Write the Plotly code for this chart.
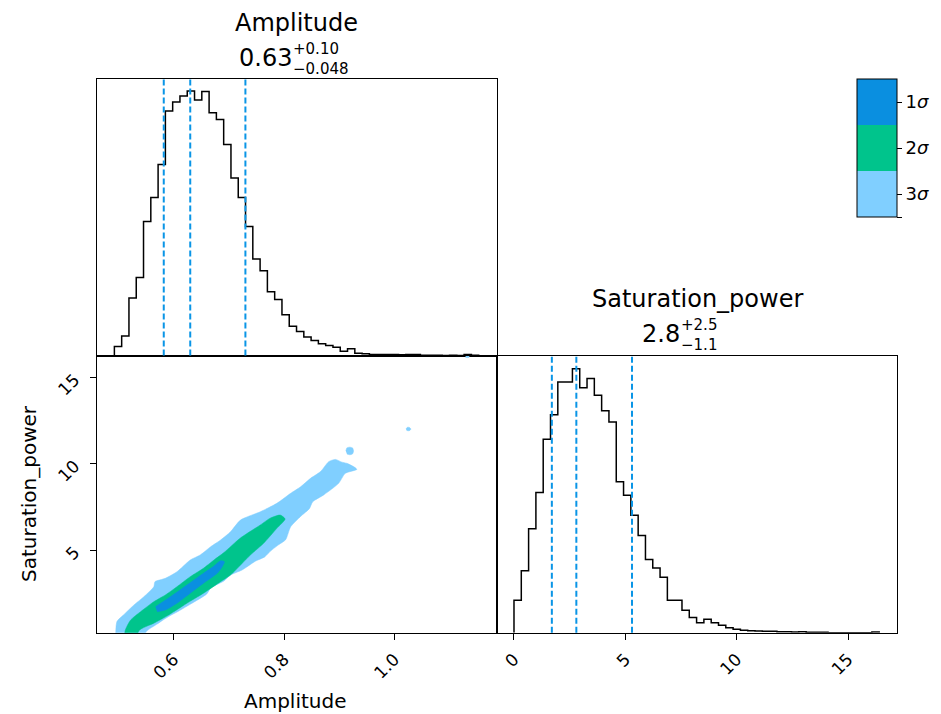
import numpy as np
import plotly.graph_objects as go

# ---------------- data ----------------
amp_counts = [27, 58, 172, 233, 400, 472, 570, 730, 757, 775, 790, 763, 788, 725, 705,
              630, 530, 472, 385, 288, 253, 190, 167, 122, 87, 72, 55, 45, 35, 30,
              25, 13, 20, 7, 5, 3, 3, 3, 3, 2, 3, 3, 1, 1, 1, 0, 1, 0, 3, 1]
amp_lo, amp_hi = 0.4925, 1.1528

sat_counts = [97, 185, 310, 418, 577, 650, 747, 747, 787, 730, 758, 708, 662, 628, 450,
              410, 350, 290, 218, 193, 165, 97, 97, 67, 45, 30, 40, 30, 22, 15,
              10, 7, 6, 5, 4, 4, 3, 3, 2, 3, 1, 1, 1, 0, 0, 0, 0, 0, 0, 2]
sat_lo, sat_hi = 0.0, 16.4

amp_quantiles = [0.582, 0.630, 0.730]
sat_quantiles = [1.7, 2.8, 5.3]

# credible-region outlines (Amplitude, Saturation_power)
sig3_amp = [0.495, 0.497, 0.509, 0.528, 0.546, 0.564, 0.566, 0.585, 0.606, 0.630, 0.648, 0.667,
            0.685, 0.703, 0.721, 0.757, 0.787, 0.812, 0.830, 0.848, 0.866, 0.881, 0.893, 0.905,
            0.914, 0.926, 0.932, 0.911, 0.899, 0.872, 0.852, 0.846, 0.830, 0.812, 0.803, 0.790,
            0.776, 0.765, 0.748, 0.724, 0.703, 0.691, 0.667, 0.660, 0.630, 0.606, 0.594, 0.579,
            0.570, 0.550, 0.540]
sig3_sat = [-1.0, 0.84, 1.23, 1.81, 2.29, 2.87, 3.16, 3.36, 3.74, 4.42, 4.71, 5.19,
            5.58, 6.06, 6.74, 7.22, 7.71, 8.29, 8.67, 9.16, 9.55, 10.13, 10.26, 10.10,
            10.03, 9.84, 9.68, 9.45, 8.87, 8.20, 7.80, 7.40, 6.95, 6.35, 5.60, 5.30,
            4.95, 4.60, 4.35, 3.84, 3.55, 3.20, 2.80, 2.45, 1.85, 1.40, 1.20, 0.90,
            0.70, 0.25, -1.0]

island1_amp = [0.912, 0.914, 0.919, 0.924, 0.926, 0.924, 0.919, 0.914]
island1_sat = [10.75, 10.93, 10.97, 10.93, 10.75, 10.57, 10.53, 10.57]
island2_amp = [1.021, 1.023, 1.025, 1.028, 1.030, 1.028, 1.025, 1.022]
island2_sat = [12.02, 12.11, 12.13, 12.10, 12.02, 11.94, 11.92, 11.95]
island3_amp = [1.129, 1.135, 1.135, 1.129]
island3_sat = [16.18, 16.18, 16.6, 16.6]

sig2_amp = [0.510, 0.512, 0.522, 0.540, 0.564, 0.585, 0.606, 0.630, 0.654, 0.673, 0.691,
            0.721, 0.757, 0.775, 0.793, 0.802, 0.787, 0.763, 0.739, 0.703, 0.685, 0.654,
            0.624, 0.591, 0.564, 0.537, 0.530]
sig2_sat = [-1.0, 0.32, 0.94, 1.42, 2.00, 2.39, 2.87, 3.45, 3.94, 4.42, 4.85,
            5.70, 6.45, 6.85, 7.03, 6.80, 6.26, 5.39, 4.71, 3.55, 3.16, 2.49,
            1.91, 1.23, 0.75, 0.32, -1.0]

sig1_amp = [0.567, 0.594, 0.624, 0.654, 0.673, 0.685, 0.692, 0.688, 0.679, 0.654, 0.630,
            0.606, 0.585, 0.570]
sig1_sat = [1.71, 2.29, 2.97, 3.65, 4.07, 4.38, 4.32, 4.03, 3.65, 3.07, 2.49,
            1.91, 1.52, 1.42]

sigma_labels = ["1<i>σ</i>", "2<i>σ</i>", "3<i>σ</i>", ""]

# ---------------- styling ----------------
C1 = "#0a8fe0"
C2 = "#00c48c"
C3 = "#80cfff"
CQ = "#0a95e6"
FONT = "DejaVu Sans"
W, H = 941, 714


def px_x(p):
    return p / W


def px_y(p):
    return 1 - p / H


def step_xy(counts, lo, hi):
    edges = np.linspace(lo, hi, len(counts) + 1)
    xs = [edges[0]] + list(edges[:-1]) + [edges[-1], edges[-1]]
    ys = [0] + list(counts) + [counts[-1], 0]
    return xs, ys


fig = go.Figure()

# top-left histogram
ax, ay = step_xy(amp_counts, amp_lo, amp_hi)
fig.add_trace(go.Scatter(x=ax, y=ay, mode="lines", line=dict(color="black", width=1.5, shape="hv"),
                         xaxis="x", yaxis="y", showlegend=False, hoverinfo="skip"))

# bottom-right histogram
sx, sy = step_xy(sat_counts, sat_lo, sat_hi)
fig.add_trace(go.Scatter(x=sx, y=sy, mode="lines", line=dict(color="black", width=1.5, shape="hv"),
                         xaxis="x3", yaxis="y3", showlegend=False, hoverinfo="skip"))

# 2D credible regions
for xs, ys, col in [(sig3_amp, sig3_sat, C3), (island1_amp, island1_sat, C3),
                    (island2_amp, island2_sat, C3), (island3_amp, island3_sat, C3),
                    (sig2_amp, sig2_sat, C2), (sig1_amp, sig1_sat, C1)]:
    fig.add_trace(go.Scatter(x=xs, y=ys, mode="lines", fill="toself", fillcolor=col,
                             line=dict(color=col, width=0.5, shape="spline", smoothing=0.6),
                             xaxis="x2", yaxis="y2", showlegend=False, hoverinfo="skip"))

# colorbar carrier
fig.add_trace(go.Scatter(
    x=[amp_lo], y=[-50], mode="markers", xaxis="x2", yaxis="y2", showlegend=False,
    hoverinfo="skip", cliponaxis=True,
    marker=dict(size=1, color=[0], cmin=0, cmax=3,
                colorscale=[[0, C3], [1 / 3, C3], [1 / 3, C2], [2 / 3, C2], [2 / 3, C1], [1, C1]],
                showscale=True,
                colorbar=dict(x=px_x(857), xanchor="left", xpad=0,
                              y=px_y(79), yanchor="top", ypad=0,
                              len=138, lenmode="pixels", thickness=40, thicknessmode="pixels",
                              outlinewidth=1, outlinecolor="black",
                              ticks="outside", ticklen=5, tickcolor="black",
                              tickvals=[2.5, 1.5, 0.5, 0], ticktext=sigma_labels,
                              tickfont=dict(family=FONT, size=18, color="black")))))

# quantile lines
shapes = []
for q in amp_quantiles:
    shapes.append(dict(type="line", xref="x", yref="y domain", x0=q, x1=q, y0=0, y1=1,
                       line=dict(color=CQ, width=2, dash="6px,3px")))
for q in sat_quantiles:
    shapes.append(dict(type="line", xref="x3", yref="y3 domain", x0=q, x1=q, y0=0, y1=1,
                       line=dict(color=CQ, width=2, dash="6px,3px")))

top = 355.5
bottom = 632.7
xl, xm, xr = 97, 497, 897
ytop = 79

amp_range = [0.461, 1.186]
sat_range2d = [0.2, 16.29]
sat_range_h = [-0.763, 17.2]

axis_common = dict(showgrid=False, zeroline=False, showline=True, mirror=True,
                   linecolor="black", linewidth=1)
tick_common = dict(ticks="outside", ticklen=6, tickwidth=1, tickcolor="black",
                   tickangle=-45, tickfont=dict(family=FONT, size=17, color="black"))

fig.update_layout(
    width=W, height=H, margin=dict(l=0, r=0, t=0, b=0),
    paper_bgcolor="white", plot_bgcolor="white", showlegend=False,
    font=dict(family=FONT, color="black"),
    shapes=shapes,
    xaxis=dict(domain=[px_x(xl), px_x(xm)], range=amp_range, anchor="y",
               showticklabels=False, ticks="", **axis_common),
    yaxis=dict(domain=[px_y(top), px_y(ytop)], range=[0, max(amp_counts) * 1.045], anchor="x",
               showticklabels=False, ticks="", **axis_common),
    xaxis2=dict(domain=[px_x(xl), px_x(xm)], range=amp_range, anchor="y2",
                tickvals=[0.6, 0.8, 1.0], ticktext=["0.6", "0.8", "1.0"],
                ticklabelstandoff=3, **axis_common, **tick_common),
    yaxis2=dict(domain=[px_y(bottom), px_y(top)], range=sat_range2d, anchor="x2",
                tickvals=[5, 10, 15], ticktext=["5", "10", "15"],
                ticklabelstandoff=12, **axis_common, **tick_common),
    xaxis3=dict(domain=[px_x(xm), px_x(xr)], range=sat_range_h, anchor="y3",
                tickvals=[0, 5, 10, 15], ticktext=["0", "5", "10", "15"],
                ticklabelstandoff=3, **axis_common, **tick_common),
    yaxis3=dict(domain=[px_y(bottom), px_y(top)], range=[0, max(sat_counts) * 1.05], anchor="x3",
                showticklabels=False, ticks="", **axis_common),
)

ann = []


def add_text(text, x, y, size, xanchor="center", yanchor="middle", angle=0):
    ann.append(dict(text=text, x=px_x(x), y=px_y(y), xref="paper", yref="paper",
                    showarrow=False, xanchor=xanchor, yanchor=yanchor, textangle=angle,
                    borderpad=0, font=dict(family=FONT, size=size, color="black")))


# panel titles
add_text("Amplitude", 296, 23, 24)
add_text("0.63", 293, 58, 24, xanchor="right")
add_text("+0.10", 292, 49, 15, xanchor="left")
add_text("−0.048", 292, 69, 15, xanchor="left")

add_text("Saturation_power", 697, 299, 24)
add_text("2.8", 681, 334, 24, xanchor="right")
add_text("+2.5", 680, 325, 15, xanchor="left")
add_text("−1.1", 680, 345, 15, xanchor="left")

# axis labels
add_text("Amplitude", 295, 701, 20)
add_text("Saturation_power", 29, 494, 20, angle=-90)

fig.update_layout(annotations=ann)

fig.write_html("out.html")
